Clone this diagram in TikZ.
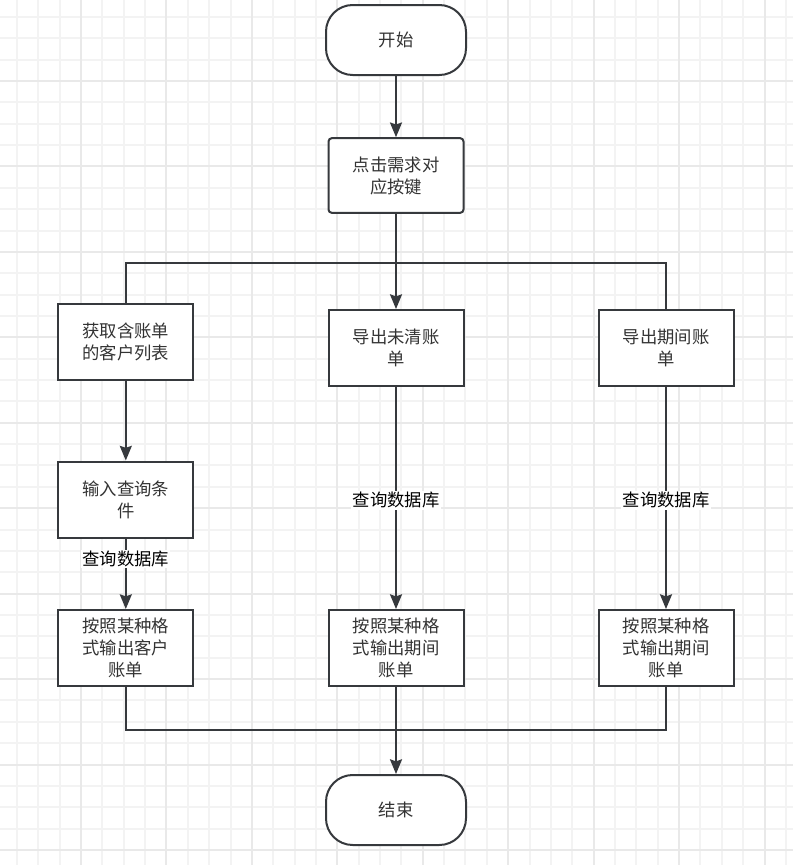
\documentclass[tikz,border=0pt]{standalone}
\usepackage{fontspec}
\newfontfamily\cjk{Noto Sans CJK SC}
\usetikzlibrary{arrows.meta}
\definecolor{stroke}{HTML}{36393D}
\definecolor{boxtext}{HTML}{333333}
\definecolor{gridminor}{HTML}{F3F3F3}
\definecolor{gridmajor}{HTML}{E9E9E9}
\tikzset{
  base/.style={draw=stroke, line width=1.5pt, fill=white, align=center,
    text=boxtext, font=\cjk\fontsize{13}{16.5}\selectfont, inner sep=2pt},
  terminal/.style={base, minimum width=105pt, minimum height=52.5pt, rounded corners=20pt},
  process/.style={base, minimum width=101.25pt, minimum height=57pt},
  softbox/.style={process, rounded corners=2.5pt, minimum height=56pt},
  conn/.style={draw=stroke, line width=1.5pt},
  arrow/.style={conn, -{Stealth[length=11pt, width=9pt, inset=1.5pt]}},
  edgelabel/.style={fill=white, text=black, inner sep=1pt,
    font=\cjk\fontsize{13}{16}\selectfont},
  gridline/.style={line width=1.5pt},
}
\begin{document}
\begin{tikzpicture}[x=0.75pt, y=-0.75pt]
  % canvas and background grid (positions snapped to whole pixels)
  \fill[white] (0,0) rectangle (793,865);
  \useasboundingbox (0,0) rectangle (793,865);
  \foreach \i in {-3,...,33}
    \draw[gridline, gridminor] ({round(81+21.36*\i)},0) -- ({round(81+21.36*\i)},865);
  \foreach \j in {-3,...,36}
    \draw[gridline, gridminor] (0,{round(81+21.36*\j)}) -- (793,{round(81+21.36*\j)});
  \foreach \i in {0,4,...,32}
    \draw[gridline, gridmajor] ({round(81+21.36*\i)},0) -- ({round(81+21.36*\i)},865);
  \foreach \j in {0,4,...,36}
    \draw[gridline, gridmajor] (0,{round(81+21.36*\j)}) -- (793,{round(81+21.36*\j)});

  % nodes
  \node[terminal] (start) at (396,40) {开始};
  \node[softbox] (press) at (396,175.5) {点击需求对\\应按键};
  \node[process] (list) at (125.8,342) {获取含账单\\的客户列表};
  \node[process] (unpaid) at (396,348) {导出未清账\\单};
  \node[process] (period) at (666,348) {导出期间账\\单};
  \node[process] (cond) at (125.8,499.5) {输入查询条\\件};
  \node[process] (outcust) at (125.8,648) {按照某种格\\式输出客户\\账单};
  \node[process] (outunpaid) at (396,648) {按照某种格\\式输出期间\\账单};
  \node[process] (outperiod) at (666,648) {按照某种格\\式输出期间\\账单};
  \node[terminal] (end) at (396,810) {结束};

  \coordinate (split) at (396,263);
  \coordinate (join) at (396,730);

  % connectors
  \draw[arrow] (start) -- (press);
  \draw[conn] (press.south) -- (split) -| (list.north);
  \draw[conn] (split) -| (period.north);
  \draw[arrow] (press) -- (unpaid);
  \draw[arrow] (list) -- (cond);
  \draw[arrow] (cond) -- node[edgelabel, pos=0.29] {查询数据库} (outcust);
  \draw[arrow] (unpaid) -- node[edgelabel, pos=0.51] {查询数据库} (outunpaid);
  \draw[arrow] (period) -- node[edgelabel, pos=0.51] {查询数据库} (outperiod);
  \draw[conn] (outcust.south) |- (join);
  \draw[conn] (outperiod.south) |- (join);
  \draw[arrow] (outunpaid) -- (end);
\end{tikzpicture}
\end{document}
